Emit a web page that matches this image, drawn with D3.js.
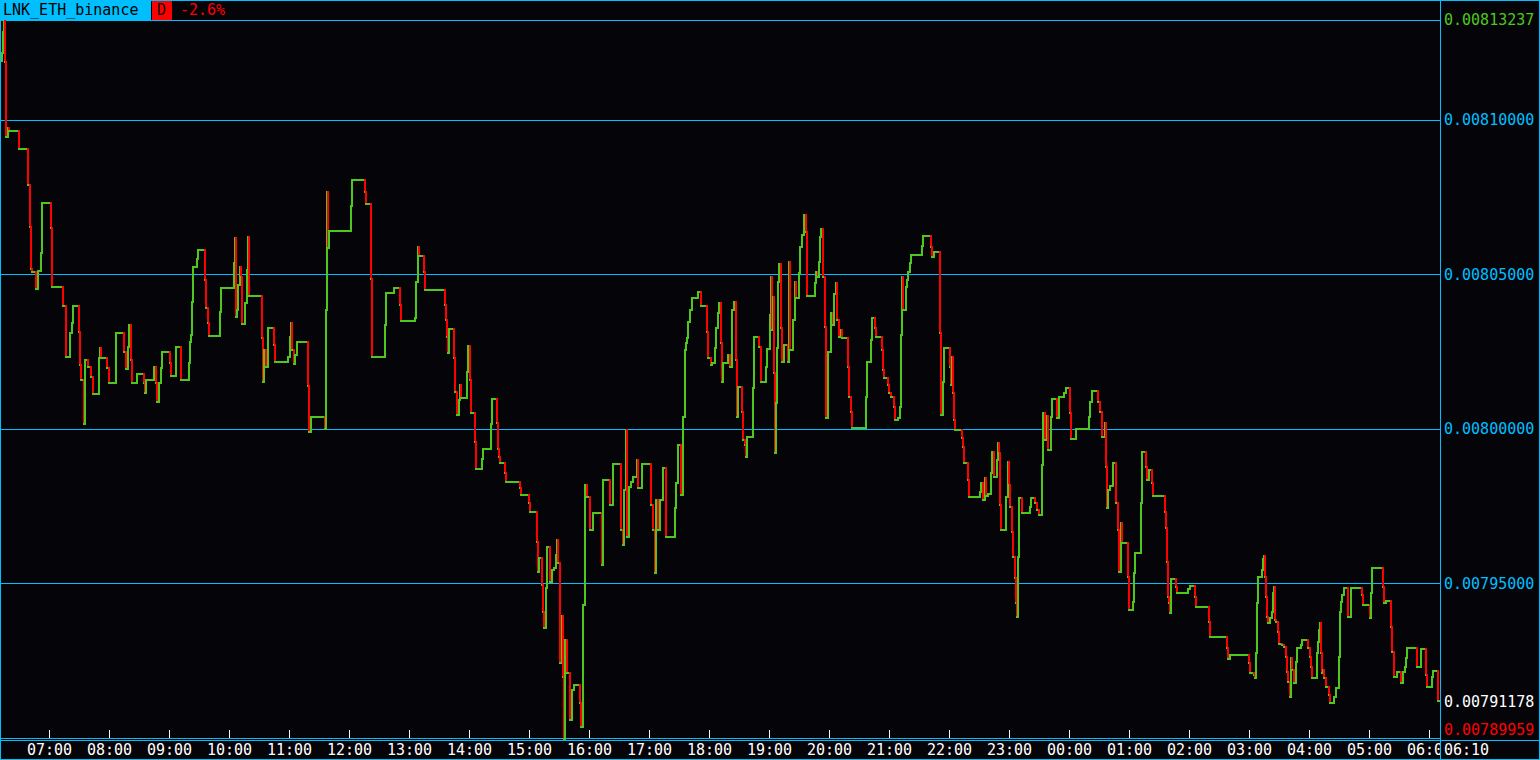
<!DOCTYPE html>
<html><head><meta charset="utf-8">
<script src="https://cdn.jsdelivr.net/npm/d3@7"></script>
<style>html,body{margin:0;padding:0;background:#050409;}svg{display:block;}</style>
</head><body>
<svg id="c" width="1540" height="760"></svg>
<script>
const symbol = "LNK_ETH_binance";
const periodTag = "D";
const changeText = "-2.6%";
// minutes elapsed since the window start (06:10, 24h window)
const minutes = [0,3,4,5,6,7,9,10,20,29,31,32,33,37,39,42,43,52,53,64,67,71,73,74,80,81,82,85,86,89,92,94,100,101,102,108,110,117,125,127,129,130,132,133,138,145,146,147,155,157,158,160,162,163,171,172,177,182,
190,191,192,193,194,198,199,206,207,209,210,221,222,235,236,237,238,239,241,242,243,246,248,249,250,263,264,265,267,269,275,276,289,291,292,293,295,296,298,309,310,312,326,327,328,329,330,352,353,366,367,372,373,386,387,395,401,402,416,417,419,420,425,426,
446,447,448,449,450,455,456,458,460,461,462,468,469,471,472,476,477,483,484,492,493,498,499,500,501,506,507,521,522,530,531,538,539,540,543,544,545,547,548,551,553,555,557,558,559,561,563,564,565,566,568,571,573,575,581,582,584,586,588,591,594,603,
604,611,614,622,624,625,627,628,630,632,634,638,639,643,652,654,656,657,659,661,664,667,676,677,679,682,684,686,687,688,689,691,693,699,702,708,709,712,713,716,717,719,720,722,723,724,729,731,733,735,737,738,739,743,744,746,747,748,754,755,760,762,767,768,771,772,773,774,775,776,777,778,779,780,782,783,785,789,790,791,794,796,797,800,801,803,805,807,808,816,817,819,820,821,822,824,826,827,829,832,834,835,837,838,840,842,843,849,850,852,853,867,868,872,873,876,877,
883,884,885,889,890,892,895,896,899,901,902,903,904,907,908,909,911,912,923,924,932,933,935,941,942,944,945,951,952,953,954,955,956,963,964,965,969,970,981,982,984,986,987,989,992,993,995,998,999,1000,1001,1002,1007,1009,1010,1011,1013,1014,1016,1017,1018,1019,1020,1023,1031,1032,1036,1038,1040,1043,1044,1046,1048,1049,1052,1053,1058,1060,1065,1067,1071,1072,1077,1090,1091,1093,1099,1101,1103,1106,1107,1108,1109,1111,1114,1117,1119,1120,1122,1123,1129,1130,1134,1135,1136,1142,1143,1147,1148,1150,1153,1154,1166,1167,1168,1169,
1170,1171,1172,1177,1178,1189,1191,1196,1197,1210,1211,1228,1229,1231,1250,1251,1255,1256,1257,1258,1259,1263,1264,1265,1266,1267,1268,1269,1271,1273,1274,1275,1276,1277,1279,1280,1283,1285,1287,1288,1289,1291,1292,1293,1295,1297,1298,1302,1303,1309,1311,1312,1313,1318,1319,1320,1321,1322,1323,1324,1325,1327,1330,1331,1335,1337,1340,1341,1342,1343,1345,1349,1352,1363,1364,1371,1372,1373,1384,1385,1387,1392,1393,1395,1398,1402,1404,1406,1407,1408,1418,1422,1427,1428,1433,1434,1439];
const prices = [0.0081191,0.0081217,0.0081285,0.0081324,0.0081188,0.0080945,0.0080974,0.0080964,0.0080906,0.0080790,0.0080654,0.0080518,0.0080508,0.0080453,0.0080511,0.0080570,0.0080731,0.0080650,0.0080460,0.0080398,0.0080233,0.0080311,0.0080343,0.0080398,0.0080314,0.0080207,0.0080159,0.0080016,0.0080223,0.0080201,0.0080168,0.0080113,0.0080230,0.0080262,0.0080230,0.0080197,0.0080149,0.0080311,0.0080249,0.0080194,0.0080265,0.0080337,0.0080223,0.0080149,0.0080178,0.0080149,0.0080117,0.0080159,0.0080201,0.0080149,0.0080087,0.0080149,0.0080197,0.0080249,0.0080214,0.0080172,0.0080265,0.0080159,
0.0080214,0.0080282,0.0080304,0.0080411,0.0080524,0.0080550,0.0080579,0.0080482,0.0080392,0.0080343,0.0080301,0.0080379,0.0080456,0.0080537,0.0080618,0.0080362,0.0080385,0.0080466,0.0080524,0.0080492,0.0080340,0.0080408,0.0080515,0.0080621,0.0080430,0.0080295,0.0080152,0.0080256,0.0080201,0.0080327,0.0080272,0.0080217,0.0080233,0.0080298,0.0080343,0.0080256,0.0080210,0.0080240,0.0080282,0.0080139,0.0079990,0.0080039,0.0080000,0.0080385,0.0080767,0.0080586,0.0080641,0.0080722,0.0080806,0.0080767,0.0080728,0.0080485,0.0080233,0.0080337,0.0080440,0.0080456,0.0080401,0.0080350,0.0080359,0.0080476,0.0080589,0.0080560,0.0080508,0.0080450,
0.0080401,0.0080353,0.0080298,0.0080246,0.0080324,0.0080230,0.0080120,0.0080045,0.0080094,0.0080142,0.0080100,0.0080185,0.0080269,0.0080159,0.0080052,0.0079958,0.0079871,0.0079903,0.0079935,0.0080016,0.0080097,0.0080019,0.0079935,0.0079909,0.0079890,0.0079858,0.0079828,0.0079809,0.0079786,0.0079760,0.0079731,0.0079634,0.0079537,0.0079583,0.0079495,0.0079408,0.0079356,0.0079485,0.0079618,0.0079505,0.0079544,0.0079550,0.0079592,0.0079641,0.0079566,0.0079243,0.0079395,0.0079197,0.0078996,0.0079317,0.0079210,0.0079058,0.0079155,0.0079172,0.0079113,0.0079036,0.0079430,0.0079819,0.0079780,0.0079673,0.0079728,0.0079560,
0.0079835,0.0079754,0.0079887,0.0079673,0.0079625,0.0079803,0.0079997,0.0079650,0.0079812,0.0079828,0.0079845,0.0079900,0.0079809,0.0079887,0.0079754,0.0079673,0.0079534,0.0079770,0.0079673,0.0079770,0.0079874,0.0079650,0.0079744,0.0079825,0.0079948,0.0079786,0.0080039,0.0080256,0.0080278,0.0080295,0.0080346,0.0080385,0.0080424,0.0080443,0.0080398,0.0080314,0.0080230,0.0080207,0.0080214,0.0080262,0.0080327,0.0080375,0.0080408,0.0080278,0.0080152,0.0080214,0.0080240,0.0080201,0.0080385,0.0080411,0.0080223,0.0080039,0.0080136,0.0080055,0.0079964,0.0079948,0.0079909,0.0079974,0.0080133,0.0080298,0.0080265,0.0080152,0.0080201,0.0080259,0.0080369,0.0080492,0.0080320,0.0080427,0.0080181,0.0079922,0.0080084,0.0080262,0.0080476,0.0080534,0.0080327,0.0080217,0.0080272,0.0080217,0.0080540,0.0080256,0.0080353,0.0080476,0.0080424,0.0080505,0.0080589,0.0080628,0.0080693,0.0080638,0.0080430,0.0080473,0.0080508,0.0080492,0.0080540,0.0080621,0.0080647,0.0080492,0.0080330,0.0080036,0.0080249,0.0080375,0.0080337,0.0080437,0.0080473,0.0080353,0.0080298,0.0080320,0.0080295,0.0080201,0.0080104,0.0080055,0.0080003,0.0080104,0.0080217,0.0080288,0.0080359,0.0080327,0.0080298,
0.0080256,0.0080191,0.0080165,0.0080142,0.0080117,0.0080104,0.0080071,0.0080029,0.0080036,0.0080071,0.0080304,0.0080492,0.0080385,0.0080460,0.0080482,0.0080508,0.0080537,0.0080563,0.0080592,0.0080625,0.0080589,0.0080557,0.0080573,0.0080311,0.0080045,0.0080152,0.0080262,0.0080201,0.0080142,0.0080233,0.0080117,0.0080029,0.0079997,0.0079971,0.0079942,0.0079890,0.0079835,0.0079780,0.0079796,0.0079825,0.0079770,0.0079841,0.0079783,0.0079790,0.0079858,0.0079926,0.0079845,0.0079900,0.0079955,0.0079922,0.0079754,0.0079673,0.0079780,0.0079893,0.0079819,0.0079748,0.0079667,0.0079586,0.0079518,0.0079437,0.0079392,0.0079586,0.0079777,0.0079728,0.0079748,0.0079777,0.0079760,0.0079738,0.0079722,0.0079884,0.0080052,0.0079964,0.0080042,0.0079932,0.0080039,0.0080097,0.0080036,0.0080104,0.0080117,0.0080133,0.0080052,0.0079968,0.0080000,0.0080039,0.0080087,0.0080123,0.0080087,0.0080055,0.0079974,0.0080019,0.0079877,0.0079744,0.0079803,0.0079816,0.0079890,0.0079760,0.0079673,0.0079537,0.0079696,0.0079631,0.0079521,0.0079414,0.0079440,0.0079534,0.0079599,0.0079760,0.0079926,0.0079877,0.0079835,0.0079867,0.0079825,0.0079783,0.0079731,0.0079680,0.0079570,0.0079456,
0.0079437,0.0079405,0.0079515,0.0079489,0.0079469,0.0079482,0.0079492,0.0079456,0.0079424,0.0079375,0.0079327,0.0079291,0.0079256,0.0079269,0.0079243,0.0079210,0.0079204,0.0079194,0.0079275,0.0079437,0.0079521,0.0079544,0.0079579,0.0079589,0.0079521,0.0079456,0.0079392,0.0079372,0.0079388,0.0079408,0.0079469,0.0079489,0.0079382,0.0079375,0.0079343,0.0079304,0.0079301,0.0079295,0.0079262,0.0079214,0.0079181,0.0079133,0.0079259,0.0079220,0.0079178,0.0079246,0.0079291,0.0079301,0.0079317,0.0079291,0.0079262,0.0079230,0.0079194,0.0079275,0.0079311,0.0079349,0.0079372,0.0079275,0.0079210,0.0079220,0.0079194,0.0079165,0.0079139,0.0079113,0.0079133,0.0079162,0.0079262,0.0079408,0.0079440,0.0079463,0.0079485,0.0079392,0.0079485,0.0079463,0.0079430,0.0079388,0.0079469,0.0079550,0.0079489,0.0079437,0.0079443,0.0079359,0.0079278,0.0079197,0.0079214,0.0079178,0.0079214,0.0079230,0.0079259,0.0079291,0.0079230,0.0079288,0.0079204,0.0079165,0.0079197,0.0079217,0.0079118];
const levelValues = [0.0081, 0.00805, 0.0080, 0.00795];
const levelLabels = ["0.00810000", "0.00805000", "0.00800000", "0.00795000"];
const highValue = 0.00813237, highLabel = "0.00813237";
const lowValue = 0.00789959, lowLabel = "0.00789959";
const lastValue = 0.00791178, lastLabel = "0.00791178";
const tickLabels = ["07:00","08:00","09:00","10:00","11:00","12:00","13:00","14:00","15:00","16:00","17:00","18:00","19:00","20:00","21:00","22:00","23:00","00:00","01:00","02:00","03:00","04:00","05:00","06:00"];
const endLabel = "06:10";

const W = 1540, H = 760;
const CYAN = "#00bfff", GREEN = "#4ec81e", RED = "#ff0000", BG = "#050409";
const FONT = '"DejaVu Sans Mono", monospace';
const svg = d3.select("#c");
svg.append("rect").attr("width", W).attr("height", H).attr("fill", BG);
const defs = svg.append("defs");

const t0 = new Date(2018, 5, 1, 6, 10);
const t1 = d3.timeMinute.offset(t0, 1440);
const x = d3.scaleTime().domain([t0, t1]).range([-1, 1439]);
const y = d3.scaleLinear().domain([lowValue, highValue]).range([739, 20]);

// level lines
const levels = [highValue, ...levelValues, lowValue];
svg.append("g").selectAll("line").data(levels).join("line")
  .attr("x1", 0).attr("x2", 1440)
  .attr("y1", d => Math.min(Math.round(y(d)) + 0.5, 738.5))
  .attr("y2", d => Math.min(Math.round(y(d)) + 0.5, 738.5))
  .attr("stroke", CYAN).attr("stroke-width", 1).attr("shape-rendering", "crispEdges");

// price step line
const pts = minutes.map((m, i) => ({ x: x(d3.timeMinute.offset(t0, m)), y: y(prices[i]) }));
const segs = [];
for (let i = 0; i < pts.length; i++) {
  if (i > 0) segs.push({ x1: pts[i].x, y1: pts[i - 1].y, x2: pts[i].x, y2: pts[i].y, c: pts[i].y <= pts[i - 1].y ? GREEN : RED });
  const xn = i < pts.length - 1 ? pts[i + 1].x : x(t1);
  segs.push({ x1: pts[i].x, y1: pts[i].y, x2: xn, y2: pts[i].y, c: GREEN });
}
defs.append("clipPath").attr("id", "pc").append("rect")
  .attr("x", 1).attr("y", 1).attr("width", 1439).attr("height", 739);
svg.append("g").attr("clip-path", "url(#pc)").selectAll("line").data(segs).join("line")
  .attr("x1", d => d.x1).attr("y1", d => d.y1).attr("x2", d => d.x2).attr("y2", d => d.y2)
  .attr("stroke", d => d.c).attr("stroke-width", 2).attr("stroke-linecap", "square")
  .attr("shape-rendering", "crispEdges");

// bottom axis (clipped at the right axis, like the reference)
const tickDates = tickLabels.map(s => {
  const [h, mm] = s.split(":").map(Number);
  let d = new Date(t0); d.setHours(h, mm, 0, 0);
  if (d < t0) d = d3.timeDay.offset(d, 1);
  return d;
});
defs.append("clipPath").attr("id", "ac").append("rect")
  .attr("x", 0).attr("y", -20).attr("width", 1441).attr("height", 60);
const gx = svg.append("g").attr("transform", "translate(0,730)").attr("clip-path", "url(#ac)")
  .call(d3.axisBottom(x).tickValues(tickDates).tickFormat((d, i) => tickLabels[i]).tickSize(8).tickPadding(0));
gx.select(".domain").remove();
gx.selectAll(".tick line").attr("stroke", "#ffffff").attr("shape-rendering", "crispEdges");
gx.selectAll(".tick text").attr("fill", "#ffffff").attr("y", 20).attr("dy", "0.35em")
  .attr("font-family", FONT).attr("font-size", 15);
gx.attr("font-family", FONT).attr("font-size", 15);

// end label
svg.append("text").attr("x", 1444).attr("y", 750).attr("dy", "0.35em").attr("fill", "#ffffff")
  .attr("font-family", FONT).attr("font-size", 15).text(endLabel);

// right price labels
const rlabels = levelValues.map((v, i) => ({ v, t: levelLabels[i], c: CYAN }))
  .concat([{ v: highValue, t: highLabel, c: GREEN }, { v: lastValue, t: lastLabel, c: "#ffffff" }, { v: lowValue, t: lowLabel, c: RED }]);
svg.append("g").selectAll("text").data(rlabels).join("text")
  .attr("x", 1444).attr("y", d => Math.min(y(d.v), 730)).attr("dy", "0.35em")
  .attr("fill", d => d.c).attr("font-family", FONT).attr("font-size", 15).text(d => d.t);

// separators and frame
svg.append("line").attr("x1", 0).attr("x2", W).attr("y1", 740.5).attr("y2", 740.5).attr("stroke", CYAN).attr("shape-rendering", "crispEdges");
svg.append("line").attr("x1", 1440.5).attr("x2", 1440.5).attr("y1", 0).attr("y2", H).attr("stroke", CYAN).attr("shape-rendering", "crispEdges");
svg.append("rect").attr("x", 0.5).attr("y", 0.5).attr("width", W - 1).attr("height", H - 1)
  .attr("fill", "none").attr("stroke", CYAN).attr("shape-rendering", "crispEdges");

// title bar
svg.append("rect").attr("x", 0).attr("y", 0).attr("width", 151).attr("height", 20).attr("fill", CYAN);
svg.append("text").attr("x", 3).attr("y", 10).attr("dy", "0.35em").attr("fill", "#000000")
  .attr("font-family", FONT).attr("font-size", 15).text(symbol);
svg.append("rect").attr("x", 152).attr("y", 1).attr("width", 20).attr("height", 19).attr("fill", RED);
svg.append("text").attr("x", 157).attr("y", 10).attr("dy", "0.35em").attr("fill", "#000000")
  .attr("font-family", FONT).attr("font-size", 15).text(periodTag);
svg.append("text").attr("x", 180).attr("y", 10).attr("dy", "0.35em").attr("fill", RED)
  .attr("font-family", FONT).attr("font-size", 15).text(changeText);
</script>
</body></html>
